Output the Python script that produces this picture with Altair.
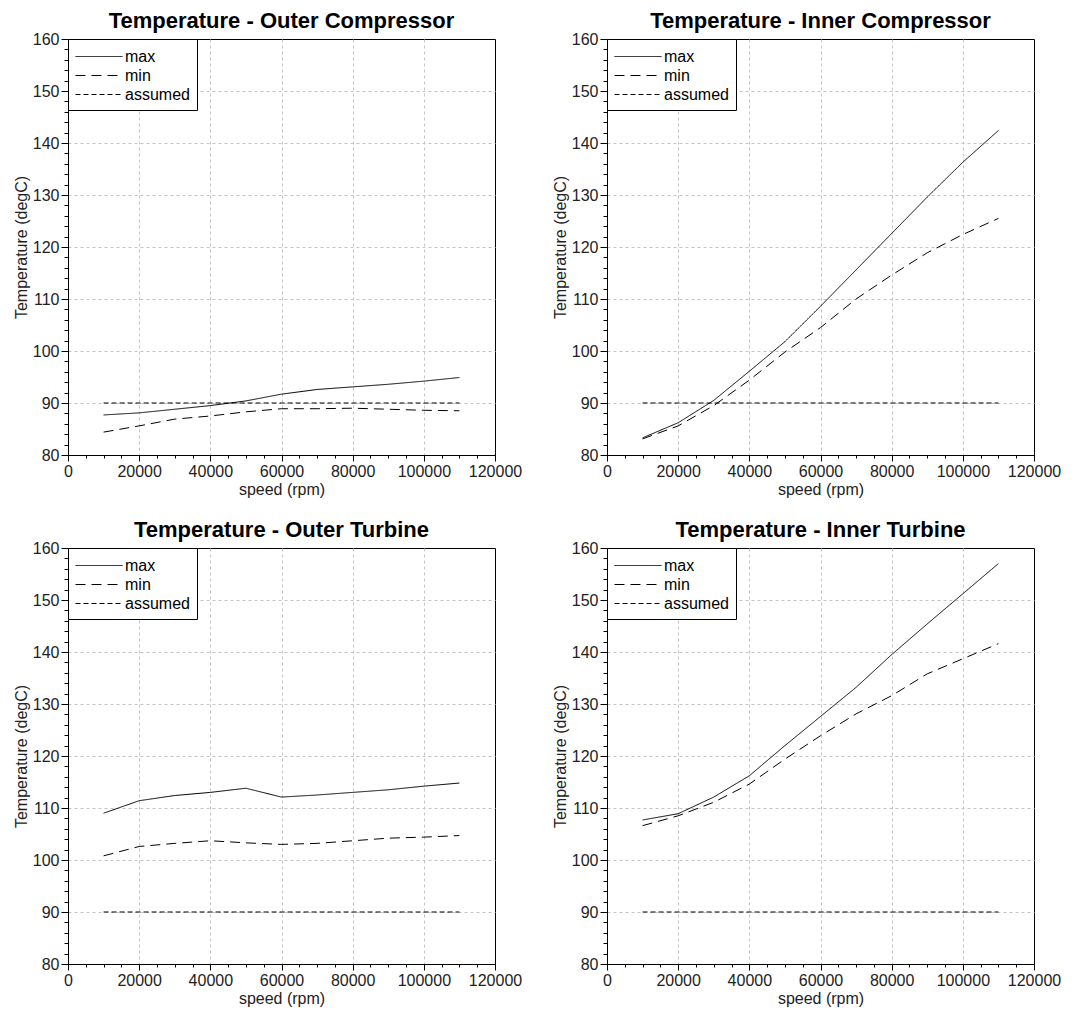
import altair as alt
import pandas as pd

speed = [10000, 20000, 30000, 40000, 50000, 60000, 70000, 80000, 90000, 100000, 110000]
series_names = ["max", "min", "assumed"]

titles = [
    "Temperature - Outer Compressor",
    "Temperature - Inner Compressor",
    "Temperature - Outer Turbine",
    "Temperature - Inner Turbine",
]

oc_max = [87.7, 88.1, 88.8, 89.5, 90.4, 91.7, 92.6, 93.1, 93.6, 94.2, 94.9]
oc_min = [84.4, 85.6, 86.9, 87.5, 88.3, 88.9, 88.9, 89.0, 88.8, 88.6, 88.5]
oc_assumed = [90, 90, 90, 90, 90, 90, 90, 90, 90, 90, 90]

ic_max = [83.3, 86.2, 90.5, 96.1, 101.8, 108.6, 115.6, 122.6, 129.6, 136.3, 142.4]
ic_min = [83.1, 85.6, 89.5, 94.4, 99.8, 104.5, 110.0, 114.6, 118.9, 122.4, 125.5]
ic_assumed = [90, 90, 90, 90, 90, 90, 90, 90, 90, 90, 90]

ot_max = [109.0, 111.4, 112.4, 113.0, 113.8, 112.1, 112.5, 113.0, 113.5, 114.2, 114.8]
ot_min = [100.8, 102.6, 103.2, 103.7, 103.3, 103.0, 103.2, 103.7, 104.2, 104.4, 104.7]
ot_assumed = [90, 90, 90, 90, 90, 90, 90, 90, 90, 90, 90]

it_max = [107.7, 108.9, 112.1, 116.2, 122.0, 127.6, 133.2, 139.5, 145.4, 151.2, 157.0]
it_min = [106.6, 108.5, 111.1, 114.6, 119.4, 123.9, 128.1, 131.6, 135.8, 138.7, 141.6]
it_assumed = [90, 90, 90, 90, 90, 90, 90, 90, 90, 90, 90]

x_major = [0, 20000, 40000, 60000, 80000, 100000, 120000]
x_grid = [20000, 40000, 60000, 80000, 100000]
x_minor = list(range(0, 120001, 5000))
y_major = [80, 90, 100, 110, 120, 130, 140, 150, 160]
y_grid = [90, 100, 110, 120, 130, 140, 150]
y_minor = list(range(80, 161, 2))

FONT = "Liberation Sans"
W, H = 427, 416


def panel(title, mx, mn, asm):
    rows = []
    for name, vals in zip(series_names, [mx, mn, asm]):
        for s, v in zip(speed, vals):
            rows.append({"speed": s, "temp": v, "series": name})
    df = pd.DataFrame(rows)

    xscale = alt.Scale(domain=[0, 120000], nice=False, zero=False)
    yscale = alt.Scale(domain=[80, 160], nice=False, zero=False)

    grid = alt.Chart(df).mark_line(opacity=0).encode(
        x=alt.X("speed:Q", scale=xscale,
                axis=alt.Axis(title=None, values=x_grid, labels=False, ticks=False,
                              domain=False, orient="bottom", grid=True,
                              gridDash=[3, 3], gridColor="#c4c4c4")),
        y=alt.Y("temp:Q", scale=yscale,
                axis=alt.Axis(title=None, values=y_grid, labels=False, ticks=False,
                              domain=False, orient="left", grid=True,
                              gridDash=[3, 3], gridColor="#c4c4c4")),
    )

    lines = alt.Chart(df).mark_line(color="black", strokeWidth=1).encode(
        x=alt.X("speed:Q", scale=xscale,
                axis=alt.Axis(title="speed (rpm)", values=x_major, format="d",
                              orient="bottom", grid=False, tickSize=6,
                              tickColor="black", domainColor="black",
                              labelPadding=2, titlePadding=2, labelFlush=False)),
        y=alt.Y("temp:Q", scale=yscale,
                axis=alt.Axis(title="Temperature (degC)", values=y_major,
                              orient="left", grid=False, tickSize=7,
                              tickColor="black", domainColor="black",
                              labelPadding=2, titlePadding=3, labelFlush=False)),
        strokeDash=alt.StrokeDash(
            "series:N",
            scale=alt.Scale(domain=series_names, range=[[1, 0], [10, 6], [5, 3]]),
            sort=series_names,
            legend=alt.Legend(title=None, orient="none", legendX=0, legendY=0,
                              strokeColor="black", fillColor="white", padding=7,
                              symbolType="M-1,0H3.7", symbolSize=400,
                              symbolStrokeColor="black", symbolStrokeWidth=1,
                              symbolFillColor="transparent",
                              labelFont=FONT, labelFontSize=16, labelColor="black",
                              labelOffset=29, rowPadding=0, cornerRadius=0)),
    )

    minor = alt.Chart(df).mark_line(opacity=0).encode(
        x=alt.X("speed:Q", scale=xscale,
                axis=alt.Axis(title=None, values=x_minor, labels=False, grid=False,
                              domain=False, orient="bottom", tickSize=3,
                              tickColor="black")),
        y=alt.Y("temp:Q", scale=yscale,
                axis=alt.Axis(title=None, values=y_minor, labels=False, grid=False,
                              domain=False, orient="left", tickSize=4,
                              tickColor="black")),
    )

    return alt.layer(grid, lines, minor).resolve_axis(
        x="independent", y="independent"
    ).properties(
        width=W, height=H,
        title=alt.TitleParams(title, font=FONT, fontSize=22, fontWeight="bold",
                              color="black", offset=-2, anchor="middle"),
    )


p1 = panel(titles[0], oc_max, oc_min, oc_assumed)
p2 = panel(titles[1], ic_max, ic_min, ic_assumed)
p3 = panel(titles[2], ot_max, ot_min, ot_assumed)
p4 = panel(titles[3], it_max, it_min, it_assumed)

chart = alt.concat(p1, p2, p3, p4, columns=2, spacing={"row": 93, "column": 112},
                   bounds="flush").resolve_scale(
    strokeDash="independent"
).resolve_legend(
    strokeDash="independent"
).properties(
    padding={"left": 4, "top": 1, "right": 5, "bottom": 5},
    background="white",
).configure_view(
    stroke="black", strokeWidth=1
).configure_axis(
    labelFont=FONT, labelFontSize=16, labelColor="#222222",
    titleFont=FONT, titleFontSize=16, titleColor="#222222", titleFontWeight="normal",
)

chart.save("out.html", embed_options={"renderer": "svg", "actions": False})
